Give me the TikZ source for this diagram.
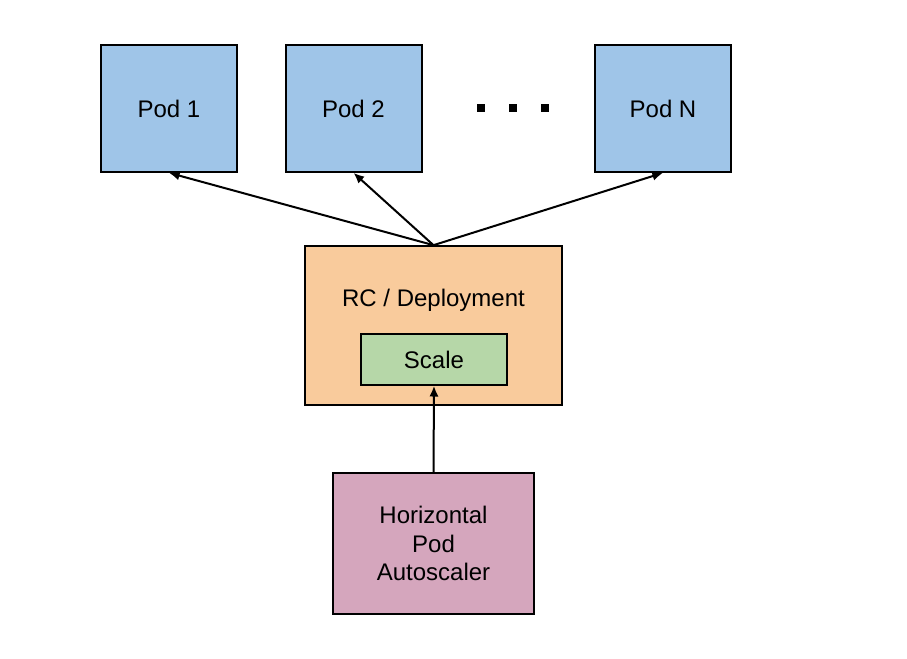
\documentclass[tikz,border=0pt]{standalone}
\usepackage{fontspec}
\setmainfont{Liberation Sans}
\usetikzlibrary{arrows.meta}

\definecolor{podblue}{HTML}{9FC5E8}
\definecolor{rcorange}{HTML}{F9CB9C}
\definecolor{scalegreen}{HTML}{B6D7A8}
\definecolor{hpapink}{HTML}{D5A6BD}

\begin{document}
\begin{tikzpicture}
[x=0.75pt,y=-0.75pt,%
  every node/.style={draw,line width=1.5pt,inner sep=0pt,font=\fontsize{18}{21.6}\selectfont},%
  pod/.style={fill=podblue,minimum width=102pt,minimum height=95pt},%
  link/.style={line width=1.5pt,-{Latex[length=8pt,width=7pt]}}]
\useasboundingbox (0,0) rectangle (907,658);
\node[pod] (pod1) at (169,108.5) {Pod 1};
\node[pod] (pod2) at (353.5,108.5) {Pod 2};
\node[pod] (podN) at (663,108.5) {Pod N};
\foreach \x in {481,513,545}
  \fill (\x-4,104) rectangle ++(8,8);
\node[fill=rcorange,minimum width=193pt,minimum height=119pt] (rc) at (433.5,325.5) {};
\node[draw=none] (rclabel) at (433.5,300) {RC / Deployment};
\node[fill=scalegreen,minimum width=110pt,minimum height=38pt] (scale) at (434,359.5) {Scale};
\node[fill=hpapink,minimum width=151pt,minimum height=106pt,align=center] (hpa) at (433.5,543.5)
  {Horizontal\\Pod\\Autoscaler};
\draw[link] (rc.north) -- (pod1.south);
\draw[link] (rc.north) -- (pod2.south);
\draw[link] (rc.north) -- (podN.south);
\draw[link] (hpa.north) -- (scale.south);
\end{tikzpicture}
\end{document}
